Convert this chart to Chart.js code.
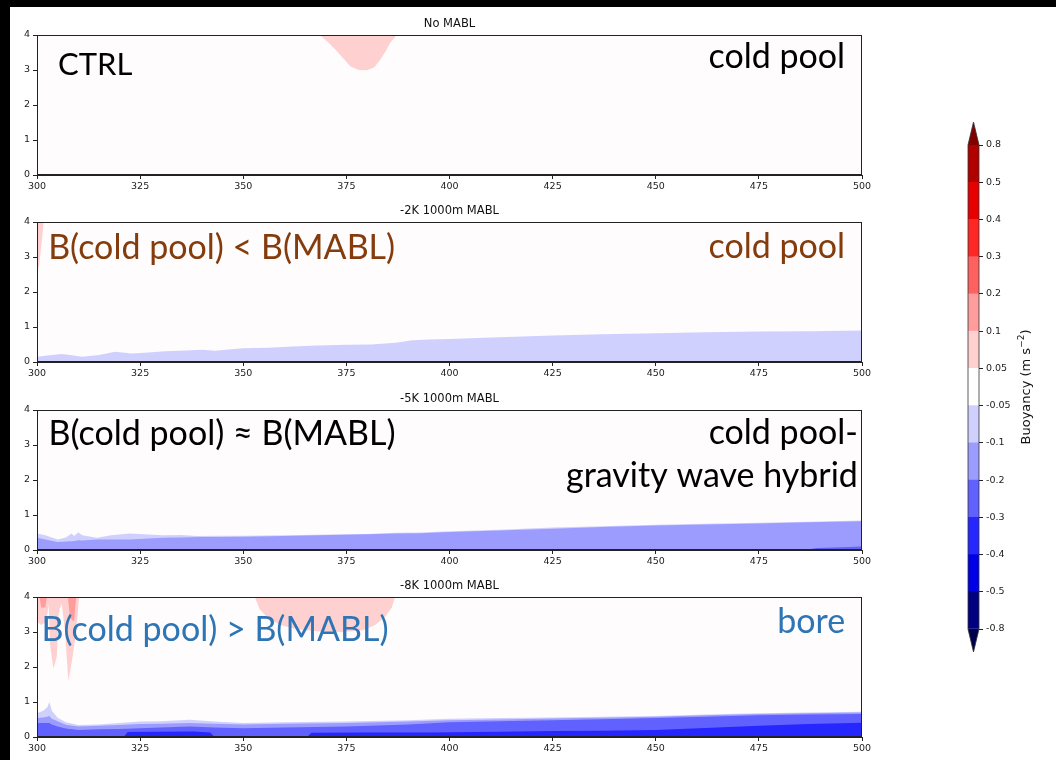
<!DOCTYPE html>
<html>
<head>
<meta charset="utf-8">
<script src="https://cdn.jsdelivr.net/npm/chart.js@4.4.1/dist/chart.umd.min.js"></script>
<style>
  html, body { margin: 0; padding: 0; background: #000; width: 1056px; height: 760px; overflow: hidden; }
  #sheet { position: absolute; left: 10px; top: 7px; width: 1046px; height: 753px; background: #fff; }
  canvas { position: absolute; }
</style>
</head>
<body>
<div id="sheet"></div>
<script>
// ---- axes ----
const distanceTicks = [300, 325, 350, 375, 400, 425, 450, 475, 500];
const heightTicks = [0, 1, 2, 3, 4];

// ---- buoyancy contour levels (m s^-2) and their fill colours ----
const levels = [-0.8, -0.5, -0.4, -0.3, -0.2, -0.1, -0.05, 0.05, 0.1, 0.2, 0.3, 0.4, 0.5, 0.8];
const levelColors = ['#000080', '#0000e6', '#2626ff', '#6161ff', '#9c9cff', '#d0d0ff', '#fefcfc',
                     '#ffd0d0', '#ff9c9c', '#ff6161', '#ff2626', '#e60000', '#b00000'];
const extendLowColor = '#00004c';
const extendHighColor = '#800000';

const panelTitles = ['No MABL', '-2K 1000m MABL', '-5K 1000m MABL', '-8K 1000m MABL'];

// ---- CTRL (no MABL): warm anomaly aloft ----
const ctrlWarmX = [368.6, 370.5, 372.6, 374.5, 376, 378, 380, 381.8, 383.2, 384.6, 385.6, 387.2];
const ctrlWarmZ = [4, 3.8, 3.55, 3.3, 3.1, 3.0, 2.99, 3.08, 3.29, 3.55, 3.77, 4];

// ---- -2K MABL ----
const m2WarmX = [300, 300.5, 301.2, 301.6];
const m2WarmZ = [2.6, 2.75, 3.5, 4];
const m2X = [300, 303, 306, 308, 311, 315, 319, 323, 327, 331, 336, 340, 343, 350, 356, 362, 368, 375, 381, 387, 391, 395, 400, 412, 425, 437, 450, 462, 475, 487, 500];
const m2Light = [0.15, 0.19, 0.23, 0.2, 0.15, 0.2, 0.29, 0.24, 0.27, 0.31, 0.33, 0.35, 0.32, 0.39, 0.41, 0.44, 0.47, 0.49, 0.5, 0.55, 0.62, 0.64, 0.66, 0.71, 0.76, 0.79, 0.82, 0.85, 0.87, 0.88, 0.9];

// ---- -5K MABL ----
const m5X = [300, 302, 305, 307, 308.4, 309, 310, 311, 314.5, 318, 322.5, 326, 330.6, 335, 338.8, 344, 350, 360, 371, 380, 387, 393, 398.5, 412, 425, 437, 450, 462, 475, 487, 500];
const m5Light = [0.47, 0.42, 0.3, 0.36, 0.47, 0.4, 0.51, 0.42, 0.35, 0.42, 0.47, 0.45, 0.42, 0.43, 0.4, 0.41, 0.41, 0.42, 0.44, 0.46, 0.49, 0.5, 0.53, 0.58, 0.64, 0.68, 0.72, 0.75, 0.78, 0.81, 0.84];
const m5Medium = [0.35, 0.3, 0.23, 0.24, 0.25, 0.26, 0.28, 0.27, 0.3, 0.3, 0.3, 0.32, 0.35, 0.36, 0.37, 0.37, 0.38, 0.4, 0.43, 0.45, 0.47, 0.48, 0.51, 0.56, 0.61, 0.66, 0.7, 0.73, 0.76, 0.79, 0.82];
const m5DeepX = [486, 489, 495, 500];
const m5Deep = [0, 0.06, 0.08, 0.1];

// ---- -8K MABL ----
const m8X = [300, 301.5, 302.5, 303, 303.6, 305, 307, 310, 315, 320, 325, 330, 337, 343, 350, 360, 375, 390, 400, 412, 425, 437, 450, 462, 475, 487, 500];
const m8Light = [0.68, 0.75, 0.85, 1.0, 0.75, 0.55, 0.42, 0.34, 0.36, 0.4, 0.44, 0.45, 0.49, 0.44, 0.4, 0.42, 0.44, 0.48, 0.52, 0.54, 0.56, 0.58, 0.6, 0.64, 0.68, 0.7, 0.72];
const m8Medium = [0.54, 0.56, 0.58, 0.6, 0.52, 0.45, 0.35, 0.3, 0.32, 0.34, 0.37, 0.38, 0.4, 0.38, 0.36, 0.38, 0.4, 0.44, 0.48, 0.5, 0.53, 0.55, 0.58, 0.62, 0.66, 0.68, 0.7];
const m8Dark = [0.4, 0.4, 0.4, 0.4, 0.36, 0.3, 0.24, 0.2, 0.22, 0.23, 0.25, 0.27, 0.3, 0.27, 0.25, 0.27, 0.3, 0.36, 0.42, 0.45, 0.48, 0.51, 0.54, 0.58, 0.62, 0.64, 0.66];
const m8CoreAX = [321, 322, 330, 338, 342, 343];
const m8CoreA = [0, 0.14, 0.15, 0.16, 0.13, 0];
const m8CoreBX = [365.5, 366.5, 380, 395, 412, 425, 437, 450, 462, 475, 487, 500];
const m8CoreB = [0, 0.12, 0.13, 0.13, 0.15, 0.17, 0.18, 0.2, 0.26, 0.32, 0.37, 0.41];
const m8WarmX = [300, 301, 302.3, 302.8, 303.2, 304, 304.8, 305.3, 306, 306.8, 307.6, 308.5, 309.5, 310.2];
const m8WarmZ = [3.3, 3.2, 3.3, 3.8, 2.6, 1.95, 2.3, 3.6, 3.8, 3.0, 1.6, 2.2, 3.0, 4];
const m8HotAX = [300.6, 301, 302, 302.4];
const m8HotA = [4, 3.7, 3.7, 4];
const m8HotBX = [307.5, 308, 309, 309.5];
const m8HotB = [4, 3.4, 3.3, 4];
const m8BlobX = [352.8, 354, 356, 359, 363, 368, 374, 379, 382, 384.5, 386, 386.8];
const m8BlobZ = [4, 3.65, 3.4, 3.2, 3.08, 3.02, 3.0, 3.05, 3.2, 3.45, 3.7, 4];

// ---- layout (page pixels) ----
const panelTops = [35, 222, 410, 597];
const plotHeight = 140;
const brown = '#843c0c';
const slideBlue = '#2e75b6';

// a filled contour band: colour index into levelColors, filled down to the ground or up to the model top
function band(xs, zs, colorIndex, fillTo) {
  return {
    data: xs.map((x, i) => ({ x: x, y: zs[i] })),
    backgroundColor: levelColors[colorIndex],
    borderColor: 'rgba(0,0,0,0)',
    borderWidth: 0,
    pointRadius: 0,
    fill: fillTo
  };
}

const panelLayers = [
  [band(ctrlWarmX, ctrlWarmZ, 7, 'end')],
  [band(m2X, m2Light, 5, 'origin'), band(m2WarmX, m2WarmZ, 7, 'end')],
  [band(m5X, m5Light, 5, 'origin'), band(m5X, m5Medium, 4, 'origin'), band(m5DeepX, m5Deep, 3, 'origin')],
  [band(m8X, m8Light, 5, 'origin'), band(m8X, m8Medium, 4, 'origin'), band(m8X, m8Dark, 3, 'origin'),
   band(m8CoreAX, m8CoreA, 2, 'origin'), band(m8CoreBX, m8CoreB, 2, 'origin'),
   band(m8WarmX, m8WarmZ, 7, 'end'), band(m8HotAX, m8HotA, 8, 'end'), band(m8HotBX, m8HotB, 8, 'end'),
   band(m8BlobX, m8BlobZ, 7, 'end')]
];

const panelNotes = [
  [{ text: 'CTRL', x: 305.1, z: 2.87, align: 'left', color: '#000', size: 31 },
   { text: 'cold pool', x: 495.9, z: 3.06, align: 'right', color: '#000', size: 34 }],
  [{ text: 'B(cold pool) < B(MABL)', x: 302.7, z: 2.94, align: 'left', color: brown, size: 34 },
   { text: 'cold pool', x: 495.9, z: 2.97, align: 'right', color: brown, size: 34 }],
  [{ text: 'B(cold pool) \u2248 B(MABL)', x: 302.8, z: 3.0, align: 'left', color: '#000', size: 34 },
   { text: 'cold pool-', x: 499, z: 3.03, align: 'right', color: '#000', size: 34 },
   { text: 'gravity wave hybrid', x: 499, z: 1.81, align: 'right', color: '#000', size: 34 }],
  [{ text: 'B(cold pool) > B(MABL)', x: 301.1, z: 2.75, align: 'left', color: slideBlue, size: 34 },
   { text: 'bore', x: 495.9, z: 2.97, align: 'right', color: slideBlue, size: 34 }]
];

const tickFont = { family: 'DejaVu Sans', size: 9.5 };
const inkColor = '#222';

function makeCanvas(left, top, w, h) {
  const c = document.createElement('canvas');
  c.width = w; c.height = h;
  c.style.left = left + 'px'; c.style.top = top + 'px';
  c.style.width = w + 'px'; c.style.height = h + 'px';
  document.body.appendChild(c);
  return c;
}

panelTitles.forEach((title, p) => {
  const canvas = makeCanvas(0, panelTops[p] - 30, 900, 30 + plotHeight + 22);
  const datasets = panelLayers[p].map((d, i, arr) => Object.assign(d, { order: arr.length - i }));
  const notes = panelNotes[p];
  new Chart(canvas, {
    type: 'line',
    data: { datasets: datasets },
    options: {
      responsive: false,
      animation: false,
      events: [],
      layout: { padding: { top: 30, right: 38, bottom: 0, left: 0 } },
      elements: { line: { tension: 0 }, point: { radius: 0 } },
      plugins: { legend: { display: false }, tooltip: { enabled: false } },
      scales: {
        x: {
          type: 'linear', min: 300, max: 500,
          afterBuildTicks: s => { s.ticks = distanceTicks.map(v => ({ value: v })); },
          afterFit: s => { s.height = 22; },
          grid: { drawOnChartArea: false, tickLength: 4, color: inkColor },
          border: { color: inkColor },
          ticks: { padding: 2, font: tickFont, color: inkColor, maxRotation: 0 }
        },
        y: {
          type: 'linear', min: 0, max: 4,
          afterBuildTicks: s => { s.ticks = heightTicks.map(v => ({ value: v })); },
          afterFit: s => { s.width = 37; },
          grid: { drawOnChartArea: false, tickLength: 4, color: inkColor },
          border: { color: inkColor },
          ticks: { padding: 3, font: tickFont, color: inkColor }
        }
      }
    },
    plugins: [{
      id: 'panelDecor',
      beforeDatasetsDraw(chart) {
        const a = chart.chartArea, ctx = chart.ctx;
        ctx.save();
        ctx.fillStyle = levelColors[6];
        ctx.fillRect(a.left, a.top, a.right - a.left, a.bottom - a.top);
        ctx.restore();
      },
      afterDraw(chart) {
        const a = chart.chartArea, ctx = chart.ctx;
        const xs = chart.scales.x, ys = chart.scales.y;
        ctx.save();
        ctx.strokeStyle = inkColor;
        ctx.lineWidth = 1;
        ctx.strokeRect(Math.round(a.left) + 0.5, Math.round(a.top) + 0.5,
                       Math.round(a.right - a.left) - 1, Math.round(a.bottom - a.top) - 1);
        ctx.fillStyle = '#111';
        ctx.font = '11.5px "DejaVu Sans"';
        ctx.textAlign = 'center';
        ctx.textBaseline = 'alphabetic';
        ctx.fillText(title, (a.left + a.right) / 2, a.top - 8);
        notes.forEach(n => {
          ctx.font = n.size + 'px Lato';
          ctx.fillStyle = n.color;
          ctx.textAlign = n.align;
          ctx.fillText(n.text, xs.getPixelForValue(n.x), ys.getPixelForValue(n.z));
        });
        ctx.restore();
      }
    }]
  });
});

// ---- colour bar ----
const cbCanvas = makeCanvas(940, 100, 116, 580);
new Chart(cbCanvas, {
  type: 'bar',
  data: {
    labels: ['B'],
    datasets: levelColors.map((c, i) => ({
      data: [[i, i + 1]],
      backgroundColor: i === 6 ? '#ffffff' : c,
      borderWidth: 0,
      barPercentage: 1,
      categoryPercentage: 1,
      grouped: false
    }))
  },
  options: {
    responsive: false,
    animation: false,
    events: [],
    layout: { padding: { top: 45, right: 0, bottom: 51, left: 28 } },
    plugins: { legend: { display: false }, tooltip: { enabled: false } },
    scales: {
      x: { display: false },
      y: {
        position: 'right', min: 0, max: levels.length - 1,
        afterBuildTicks: s => { s.ticks = levels.map((v, i) => ({ value: i })); },
        afterFit: s => { s.width = 77; },
        grid: { drawOnChartArea: false, tickLength: 4, color: inkColor },
        border: { display: false },
        ticks: { padding: 3, font: { family: 'DejaVu Sans', size: 9.5 }, color: inkColor,
                 callback: v => String(levels[v]) }
      }
    }
  },
  plugins: [{
    id: 'colorbarDecor',
    afterDatasetsDraw(chart) {
      const a = chart.chartArea, ctx = chart.ctx;
      const mid = (a.left + a.right) / 2;
      const tip = 23;
      ctx.save();
      ctx.fillStyle = extendHighColor;
      ctx.beginPath();
      ctx.moveTo(a.left, a.top); ctx.lineTo(mid, a.top - tip); ctx.lineTo(a.right, a.top); ctx.closePath();
      ctx.fill();
      ctx.fillStyle = extendLowColor;
      ctx.beginPath();
      ctx.moveTo(a.left, a.bottom); ctx.lineTo(mid, a.bottom + tip); ctx.lineTo(a.right, a.bottom); ctx.closePath();
      ctx.fill();
      ctx.strokeStyle = '#333';
      ctx.lineWidth = 0.8;
      ctx.beginPath();
      ctx.moveTo(a.left, a.bottom); ctx.lineTo(a.left, a.top); ctx.lineTo(mid, a.top - tip);
      ctx.lineTo(a.right, a.top); ctx.lineTo(a.right, a.bottom); ctx.lineTo(mid, a.bottom + tip);
      ctx.closePath();
      ctx.stroke();
      ctx.restore();
    },
    afterDraw(chart) {
      // rotated axis label with a raised exponent
      const a = chart.chartArea, ctx = chart.ctx;
      const main = 'Buoyancy (m s', sup = '\u22122', close = ')';
      const mainFont = '13px "DejaVu Sans"', supFont = '9px "DejaVu Sans"';
      ctx.save();
      ctx.font = mainFont; const w1 = ctx.measureText(main).width, w3 = ctx.measureText(close).width;
      ctx.font = supFont; const w2 = ctx.measureText(sup).width;
      const total = w1 + w2 + w3;
      ctx.translate(a.right + 48, (a.top + a.bottom) / 2);
      ctx.rotate(-Math.PI / 2);
      ctx.fillStyle = '#111';
      ctx.textAlign = 'left';
      ctx.textBaseline = 'middle';
      let x0 = -total / 2;
      ctx.font = mainFont; ctx.fillText(main, x0, 0);
      ctx.font = supFont; ctx.fillText(sup, x0 + w1, -5);
      ctx.font = mainFont; ctx.fillText(close, x0 + w1 + w2, 0);
      ctx.restore();
    }
  }]
});
</script>
</body>
</html>
